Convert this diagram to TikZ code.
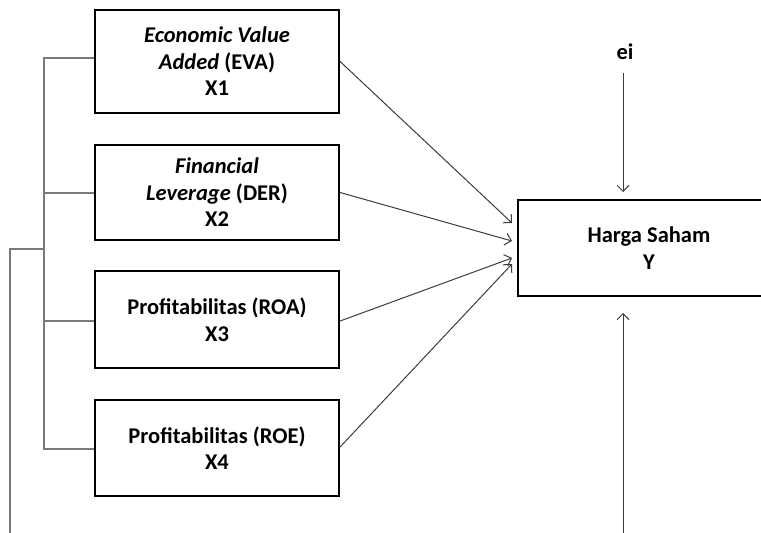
\documentclass[tikz,border=0pt]{standalone}
\usepackage{fontspec}
\setmainfont{Carlito}
\usetikzlibrary{arrows.meta}
\definecolor{brk}{HTML}{7A7A7A}
\definecolor{arr}{HTML}{3C3C3C}
\tikzset{
  vbox/.style={draw=black, line width=2.2pt, minimum width=244pt, align=center,
    font=\fontsize{22.5}{26.5}\selectfont\bfseries, inner sep=0pt},
  brline/.style={draw=brk, line width=1.3pt},
  arrline/.style={draw=arr, line width=1pt, -{Straight Barb[length=6pt,width=12pt]}},
}
\begin{document}
\begin{tikzpicture}[x=1pt,y=-1pt]
\useasboundingbox (0,0) rectangle (761,533);
\clip (0,0) rectangle (761,533);
\node[vbox, minimum height=103pt] (b1) at (217,61.5) {\textit{Economic Value}\\\textit{Added} (EVA)\\X1};
\node[vbox, minimum height=95pt] (b2) at (217,192.5) {\textit{Financial}\\\textit{Leverage} (DER)\\X2};
\node[vbox, minimum height=97pt] (b3) at (217,319.5) {Profitabilitas (ROA)\\X3};
\node[vbox, minimum height=96pt] (b4) at (217,448) {Profitabilitas (ROE)\\X4};
\node[vbox, minimum width=262pt, minimum height=96pt] (y) at (649,248) {Harga Saham\\Y};
\node[font=\fontsize{22.5}{26}\selectfont\bfseries, inner sep=0pt] (ei) at (625,52) {ei};
% bracket
\coordinate (s1) at (44,58);
\coordinate (s2) at (44,193);
\coordinate (s3) at (44,321);
\coordinate (s4) at (44,449);
\coordinate (sm) at (44,249);
\coordinate (t1) at (10,249);
\coordinate (t2) at (10,540);
\draw[brline] (s1 -| b1.west) -- (s1) -- (s4) -- (s4 -| b4.west);
\draw[brline] (s2) -- (s2 -| b2.west);
\draw[brline] (s3) -- (s3 -| b3.west);
\draw[brline] (sm) -- (t1) -- (t2);
% arrows into Y
\coordinate (e1) at (512,223);
\coordinate (e2) at (512,241);
\coordinate (e3) at (512,258);
\coordinate (e4) at (512,264);
\draw[arrline] (b1.east) -- (e1);
\draw[arrline] (b2.east) -- (e2);
\draw[arrline] ([yshift=-1.5pt]b3.east) -- (e3);
\draw[arrline] ([yshift=1pt]b4.east) -- (e4);
\coordinate (ea) at (623,73);
\coordinate (eb) at (623,192);
\coordinate (fa) at (623,540);
\coordinate (fb) at (623,313);
\draw[arrline] (ea) -- (eb);
\draw[arrline] (fa) -- (fb);
\end{tikzpicture}
\end{document}
